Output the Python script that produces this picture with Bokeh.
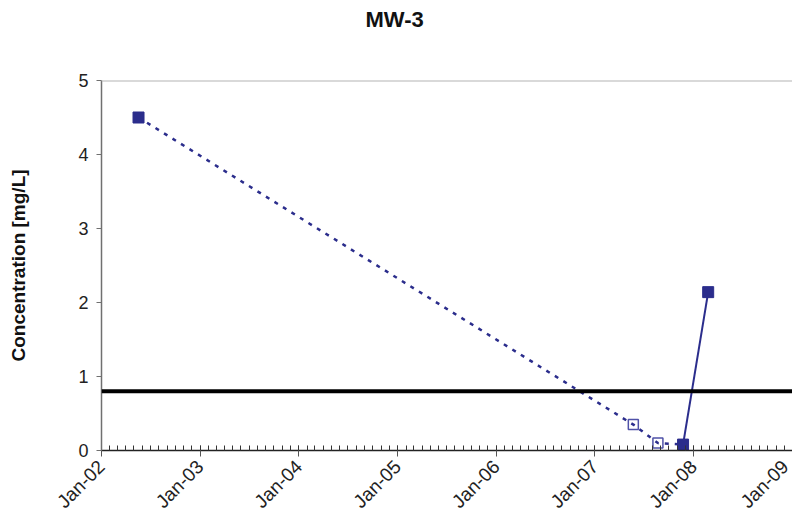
import pandas as pd
from bokeh.plotting import figure
from bokeh.models import (ColumnDataSource, Range1d, FixedTicker, DatetimeTickFormatter,
                          Span, Title)
from bokeh.embed import file_html
from bokeh.resources import INLINE

# Sampling results for well MW-3
sample_dates = ["2002-05-18", "2007-05-23", "2007-08-22", "2007-11-23", "2008-02-24"]
concentrations = [4.5, 0.35, 0.1, 0.08, 2.14]
detected = [True, False, False, True, True]
# Index where the dotted trend ends and the solid one begins
solid_from = 3
# Regulatory limit (mg/L)
limit = 0.8
year_ticks = [f"{y}-01-01" for y in range(2002, 2010)]
y_ticks = [0, 1, 2, 3, 4, 5]

FONT = "Liberation Sans"
NAVY = "#2B2D8C"


def ms(d):
    return pd.Timestamp(d).value // 10**6


dates = [pd.Timestamp(d) for d in sample_dates]

p = figure(width=792, height=523, x_axis_type="datetime", output_backend="svg",
           toolbar_location=None,
           x_range=Range1d(ms(year_ticks[0]), ms(year_ticks[-1])),
           y_range=Range1d(0, 5),
           min_border_left=101, min_border_right=0, min_border_top=80,
           min_border_bottom=73)

p.xgrid.visible = False
p.ygrid.visible = False
p.outline_line_color = None
p.background_fill_color = "white"
p.border_fill_color = "white"

# Monthly minor ticks, yearly major ticks
months = pd.date_range(year_ticks[0], year_ticks[-1], freq="MS")
p.xaxis.ticker = FixedTicker(ticks=[ms(d) for d in year_ticks],
                             minor_ticks=[ms(d) for d in months])
p.xaxis.formatter = DatetimeTickFormatter(years="%b-%y", months="%b-%y",
                                          days="%b-%y")
p.xaxis.major_label_orientation = 0.785398
p.xaxis.major_label_text_font = FONT
p.xaxis.major_label_text_font_size = "19px"
p.xaxis.major_label_text_color = "#222222"
p.xaxis.major_tick_in = 5
p.xaxis.major_tick_out = 6
p.xaxis.minor_tick_in = 5
p.xaxis.minor_tick_out = 0
p.xaxis.axis_line_color = "#222222"
p.xaxis.axis_line_width = 1.5
p.xaxis.major_tick_line_color = "#555555"
p.xaxis.minor_tick_line_color = "#333333"
p.xaxis.major_label_standoff = 7

p.yaxis.ticker = FixedTicker(ticks=y_ticks)
p.yaxis.major_label_text_font = FONT
p.yaxis.major_label_text_font_size = "18px"
p.yaxis.major_label_text_color = "#222222"
p.yaxis.major_tick_in = 0
p.yaxis.major_tick_out = 5
p.yaxis.minor_tick_line_color = None
p.yaxis.axis_line_color = "#707070"
p.yaxis.axis_line_width = 1.5
p.yaxis.major_tick_line_color = "#707070"
p.yaxis.major_label_standoff = 8
p.yaxis.axis_label = "Concentration [mg/L]"
p.yaxis.axis_label_text_font = FONT
p.yaxis.axis_label_text_font_size = "19px"
p.yaxis.axis_label_text_font_style = "bold"
p.yaxis.axis_label_text_color = "#111111"
p.yaxis.axis_label_standoff = 46

# Plot-area top border
p.add_layout(Span(location=5, dimension="width", line_color="#b4b4b4",
                  line_width=2))

# Limit line
p.add_layout(Span(location=limit, dimension="width", line_color="black",
                  line_width=4))

# Trend lines
p.line(dates[:solid_from + 1], concentrations[:solid_from + 1], line_color=NAVY,
       line_width=2.5, line_dash="4 6")
p.line(dates[solid_from:], concentrations[solid_from:], line_color=NAVY,
       line_width=2)

det = ColumnDataSource(dict(x=[d for d, k in zip(dates, detected) if k],
                            y=[c for c, k in zip(concentrations, detected) if k]))
nd = ColumnDataSource(dict(x=[d for d, k in zip(dates, detected) if not k],
                           y=[c for c, k in zip(concentrations, detected) if not k]))
p.scatter("x", "y", source=det, marker="square", size=11, fill_color=NAVY,
          line_color=NAVY)
p.scatter("x", "y", source=nd, marker="square", size=10, fill_alpha=0,
          line_color="#4F52A8", line_width=1.5)

# Blank spacer panel between the plot area and the title
p.add_layout(Title(text=" ", text_font=FONT, text_font_size="21px",
                   standoff=22), "above")
# Title centred over the whole page
p.add_layout(Title(text="MW-3", text_font=FONT, text_font_size="22px",
                   text_font_style="bold", text_color="#111111", align="left",
                   offset=264, standoff=0, vertical_align="top"), "above")

open("out.html", "w").write(file_html(p, INLINE))
